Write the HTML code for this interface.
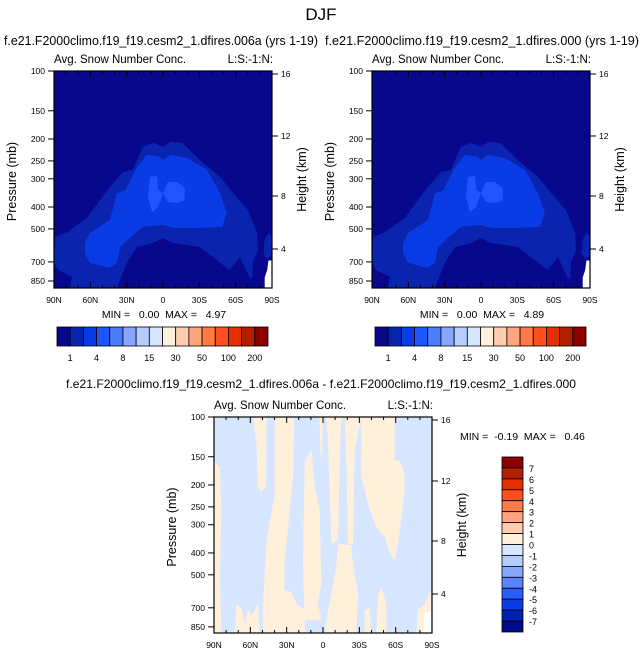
<!DOCTYPE html>
<html><head><meta charset="utf-8">
<style>
body{margin:0;background:#fff;width:643px;height:658px;overflow:hidden;font-family:"Liberation Sans",sans-serif;}
svg{display:block}
text{font-family:"Liberation Sans",sans-serif;fill:#000;white-space:pre}
</style></head>
<body>
<svg id="chart" width="643" height="658" viewBox="0 0 643 658" xmlns="http://www.w3.org/2000/svg"></svg>
<script>
// ===== data =====
const pressureTicks = [100,150,200,250,300,400,500,700,850];
const heightTicks = [16,12,8,4];
const latTicks = [90,60,30,0,-30,-60,-90];
const latTickLabels = ['90N','60N','30N','0','30S','60S','90S'];
const absColors = ['#08088c','#0a24b0','#0a3ce6','#1e55ff','#4a7cff','#88a6ff','#b5ceff','#d7e6ff','#fff0dc','#ffccb2','#ffa57e','#ff7a47','#ff4f1f','#e33000','#b22000','#8c0000'];
const absLabels = ['1','4','8','15','30','50','100','200'];
const diffColors = ['#8c0000','#b22000','#e33000','#ff4f1f','#ff7a47','#ffa57e','#ffccb2','#fff0dc','#d7e6ff','#b5ceff','#88a8ff','#5a85ff','#2a5bff','#0a3ce6','#0020b4','#000a8c'];
const diffLabels = ['7','6','5','4','3','2','1','0','-1','-2','-3','-4','-5','-6','-7'];
// contour regions: [lat, pressure] pairs
const level2Lat = [89,79,63,44,33,25,16.5,8,0,-6,-16,-30.5,-47,-58,-70,-77.6,-78.4,-74,-74,-72,-63.6,-55,-41,-30.5,-8,0,8,21.5,30,38,77,75,86.7,90];
const level2P   = [543,516,447,326,280,274,217,208,217,206,208,248,294,347,412,521,620,707,816,834,665,760,665,601,577,548,577,601,707,913,913,816,760,707];
const level3Lat = [64.4,60.3,43.8,38,31.4,21.5,13.2,2.5,0,-5.8,-19.8,-36.3,-47,-52.8,-48.7,-30.5,-8.3,0,16.5,24.8,35.5,38,43.8,60.3,64.4];
const level3P   = [577,521,456,347,339,266,235,240,248,235,243,274,347,425,490,495,495,480,490,532,601,707,744,707,639];
const level4aLat = [10.7,5,4,0,4,9,12.4];
const level4aP   = [294,292,336,347,400,421,361];
const level4bLat = [0,-4,-11.6,-18,-18,-11.6,-4];
const level4bP   = [347,310,310,330,372,384,380];
const edgeLat = [-84,-87,-90,-90,-86,-83];
const edgeP   = [560,520,540,650,680,640];
const whiteLat = [-87,-90,-90,-84,-84,-86];
const whiteP   = [690,690,913,913,820,760];
// difference field: positive (0..1) regions
const diffRegions = [
 {lat:[90,85,84,85,84,90], p:[156,168,259,511,905,905]},
 {lat:[57.8,46.8,46.8,50.9,53.7,55], p:[100,100,204,214,204,131]},
 {lat:[39.9,23.9,24.8,27.5,31.7,31.7,26.2,22,15.1,15.1,49.5,49.5,46.8,39.9], p:[100,100,184,259,454,585,594,672,718,905,905,672,364,218]},
 {lat:[72.9,71.6,67.4,64.7,61.9,59.2,53.7,52.3], p:[905,672,700,820,710,760,672,905]},
 {lat:[15.1,9.6,6.9,2.8,1.4,4.1,1.4,15.1,16.5], p:[156,141,198,259,544,672,795,795,439]},
 {lat:[2.8,0,0.8,2.2], p:[100,100,156,141]},
 {lat:[-2.7,-15.1,-13.8,-12.4,-6.9,-5.5,-4.1], p:[100,100,156,350,364,218,131]},
 {lat:[-12.4,-23.4,-24.8,-28.9,-27.5,-1.4,-2.7,-6.9,-11], p:[364,370,454,606,905,905,795,606,454]},
 {lat:[-17.9,-31.6,-26.1,-24.8,-20.6,-19.2], p:[100,100,141,364,364,156]},
 {lat:[-31.6,-59.2,-59.2,-63.3,-67.4,-67.4,-64.7,-62,-59.2,-55,-50.9,-44,-37.2,-31.6], p:[100,100,156,156,178,218,277,364,431,398,339,307,245,184]},
 {lat:[-34.4,-34.4,-38.5,-39.9], p:[905,718,700,905]},
 {lat:[-44,-45.4,-48.2,-52.3,-52.3], p:[905,606,570,672,905]},
 {lat:[-77.1,-78.4,-83.9,-88,-89.4,-89.4], p:[905,718,672,606,590,905]}
];
const diffWhiteLat = [-83.5,-89.4,-89.4,-83.5];
const diffWhiteP = [740,720,905,905];

// ===== drawing =====
const svg = document.getElementById('chart');
const NS = 'http://www.w3.org/2000/svg';
function mk(tag, attrs, parent){const e=document.createElementNS(NS,tag);for(const k in attrs)e.setAttribute(k,attrs[k]);(parent||svg).appendChild(e);return e;}
function txt(s, x, y, size, anchor, parent, rot){const t=mk('text',{x:x,y:y,'font-size':size,'text-anchor':anchor||'start'},parent);if(rot)t.setAttribute('transform','rotate(-90 '+x+' '+y+')');t.textContent=s;return t;}

function makeAxes(b){
  b.xs = lat => b.x0 + (90-lat)/180*(b.x1-b.x0);
  b.ys = p => b.y0 + Math.log(p/100)/Math.log(b.pmax/100)*(b.y1-b.y0);
  return b;
}
function poly(b, lats, ps, fill, name, g){
  const pts = lats.map((l,i)=>b.xs(l).toFixed(1)+','+b.ys(ps[i]).toFixed(1)).join(' ');
  const e = mk('polygon',{points:pts,fill:fill},g);
  
  
  return e;
}
function frame(b, g, hkm){
  mk('rect',{x:b.x0,y:b.y0,width:b.x1-b.x0,height:b.y1-b.y0,fill:'none',stroke:'#000','stroke-width':1.2},g);
  pressureTicks.forEach(p=>{const y=b.ys(p);mk('line',{x1:b.x0-6,x2:b.x0,y1:y,y2:y,stroke:'#000'},g);
    const t=txt(String(p),b.x0-9,y+3,8.5,'end',g);});
  heightTicks.forEach((h,i)=>{const y=hkm[i];mk('line',{x1:b.x1,x2:b.x1+6,y1:y,y2:y,stroke:'#000'},g);
    txt(String(h),b.x1+9,y+3,8.5,'start',g);});
  for(let l=90;l>=-90;l-=10){const x=b.xs(l);const major=(l%30===0);const len=major?6:3;
    mk('line',{x1:x,x2:x,y1:b.y1,y2:b.y1-len,stroke:'#000'},g);
    mk('line',{x1:x,x2:x,y1:b.y0,y2:b.y0+len,stroke:'#000'},g);}
  latTicks.forEach((l,i)=>{const t=txt(latTickLabels[i],b.xs(l),b.y1+15,8.5,'middle',g);});
  const pl=txt('Pressure (mb)',b.x0-38,(b.y0+b.y1)/2+2,12.5,'middle',g,true);
  const hl=txt('Height (km)',b.x1+34,(b.y0+b.y1)/2,12.5,'middle',g,true);
  const a=txt('Avg. Snow Number Conc.',b.x0,b.y0-8,11.5,'start',g);
  const c=txt('L:S:-1:N:',b.x1+1,b.y0-8,11.5,'end',g);
}
function absPanel(x0, name, caseTitle, titleX, maxv){
  const g = mk('g',{});
  
  
  const b = makeAxes({x0:x0,x1:x0+218,y0:71,y1:288,pmax:913});
  const t=txt(caseTitle,titleX,45,12.5,'middle',g);
  t.setAttribute('textLength','314');t.setAttribute('lengthAdjust','spacingAndGlyphs');
  mk('rect',{x:b.x0,y:b.y0,width:218,height:217,fill:absColors[0]},g);
  const clip = 'clip-'+name;
  const cp = mk('clipPath',{id:clip},g); mk('rect',{x:b.x0,y:b.y0,width:218,height:217},cp);
  const gg = mk('g',{'clip-path':'url(#'+clip+')'},g);
  poly(b,level2Lat,level2P,absColors[1],'contour-level-2',gg);
  poly(b,level3Lat,level3P,absColors[2],'contour-level-3',gg);
  poly(b,level4aLat,level4aP,absColors[3],'contour-level-4-north',gg);
  poly(b,level4bLat,level4bP,absColors[3],'contour-level-4-south',gg);
  poly(b,edgeLat,edgeP,absColors[1],'contour-edge',gg);
  poly(b,whiteLat,whiteP,'#ffffff','missing-data',gg);
  frame(b,g,[74,136,196,249]);
  const m=txt('MIN =   0.00  MAX =   '+maxv,b.x0+110,318,10.5,'middle',g);
  const cb = mk('g',{},g);
  
  
  const cx0=x0+3, cw=(211)/absColors.length;
  absColors.forEach((c,i)=>mk('rect',{x:cx0+i*cw,y:327,width:cw,height:19,fill:c,stroke:'#000','stroke-width':0.8},cb));
  absLabels.forEach((l,i)=>txt(l,cx0+(2*i+1)*cw,361,9,'middle',cb));
}
txt('DJF',321,20,17,'middle');
absPanel(54,'panel-case-006a','f.e21.F2000climo.f19_f19.cesm2_1.dfires.006a (yrs 1-19)',161,'4.97');
absPanel(372,'panel-case-000','f.e21.F2000climo.f19_f19.cesm2_1.dfires.000 (yrs 1-19)',482,'4.89');

// difference panel
(function(){
  const g = mk('g',{});
  
  
  const b = makeAxes({x0:214,x1:432,y0:417,y1:633,pmax:905});
  const t=txt('f.e21.F2000climo.f19_f19.cesm2_1.dfires.006a - f.e21.F2000climo.f19_f19.cesm2_1.dfires.000',321,388,12,'middle',g);
  
  t.setAttribute('textLength','510');t.setAttribute('lengthAdjust','spacingAndGlyphs');
  mk('rect',{x:b.x0,y:b.y0,width:218,height:216,fill:diffColors[8]},g);
  const cp = mk('clipPath',{id:'clip-diff'},g); mk('rect',{x:b.x0,y:b.y0,width:218,height:216},cp);
  const gg = mk('g',{'clip-path':'url(#clip-diff)'},g);
  diffRegions.forEach((r,i)=>poly(b,r.lat,r.p,diffColors[7],'positive-region-'+(i+1),gg));
  poly(b,diffWhiteLat,diffWhiteP,'#ffffff','missing-data',gg);
  frame(b,g,[420,481,541,594]);
  const m=txt('MIN =  -0.19  MAX =   0.46',460,440,10.5,'start',g);
  const cb = mk('g',{},g);
  
  
  const ch=(632-457)/diffColors.length;
  diffColors.forEach((c,i)=>mk('rect',{x:502,y:457+i*ch,width:21,height:ch,fill:c,stroke:'#000','stroke-width':0.8},cb));
  diffLabels.forEach((l,i)=>txt(l,529,457+(i+1)*ch+4,9,'start',cb));
})();
</script>
</body></html>
